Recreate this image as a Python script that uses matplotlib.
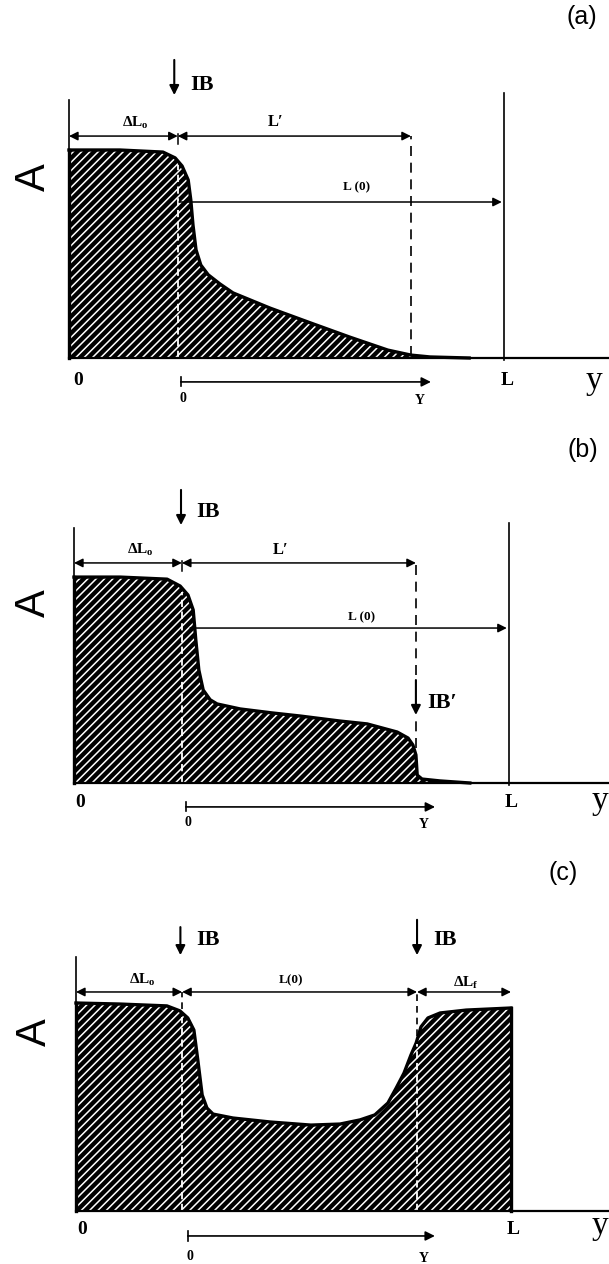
import matplotlib.pyplot as plt
import numpy as np

plt.rcParams['hatch.linewidth'] = 1.1
plt.rcParams['hatch.color'] = 'white'
plt.rcParams['mathtext.fontset'] = 'custom'
plt.rcParams['mathtext.rm'] = 'Liberation Serif:bold'
plt.rcParams['mathtext.it'] = 'Liberation Serif:bold'
plt.rcParams['mathtext.bf'] = 'Liberation Serif:bold'

# profiles A(y): y in units of L, A in units of the plateau height
ya = [0, 0.117, 0.216, 0.244, 0.260, 0.274, 0.280, 0.285, 0.292, 0.303, 0.320,
      0.347, 0.377, 0.462, 0.556, 0.646, 0.733, 0.786, 0.83, 0.92]
Aa = [1.0, 1.0, 0.99, 0.962, 0.923, 0.856, 0.76, 0.64, 0.52, 0.447, 0.40,
      0.356, 0.313, 0.24, 0.168, 0.10, 0.038, 0.014, 0.005, 0.0]

yb = [0, 0.106, 0.214, 0.244, 0.262, 0.274, 0.280, 0.287, 0.297, 0.313, 0.329,
      0.382, 0.455, 0.52, 0.611, 0.674, 0.743, 0.768, 0.779, 0.786, 0.789, 0.80,
      0.841, 0.91]
Ab = [0.99, 0.99, 0.98, 0.947, 0.904, 0.832, 0.688, 0.543, 0.447, 0.40, 0.38,
      0.356, 0.337, 0.322, 0.298, 0.284, 0.245, 0.216, 0.183, 0.135, 0.038, 0.019,
      0.01, 0.0]

yc = [0, 0.101, 0.209, 0.239, 0.257, 0.271, 0.28, 0.29, 0.301, 0.315, 0.361,
      0.446, 0.54, 0.607, 0.653, 0.687, 0.717, 0.736, 0.754, 0.77, 0.782, 0.793,
      0.809, 0.837, 0.897, 1.0]
Ac = [1.0, 0.995, 0.986, 0.962, 0.928, 0.87, 0.726, 0.558, 0.495, 0.466, 0.447,
      0.428, 0.413, 0.418, 0.438, 0.462, 0.519, 0.591, 0.663, 0.75, 0.808, 0.885,
      0.928, 0.952, 0.966, 0.976]

# positions of the IB marks and of the Y end
ib_a, yend_a = 0.25, 0.786
ib_b, yend_b = 0.248, 0.786
ib_c, yend_c = 0.244, 0.784

W, H = 609, 1264
fig = plt.figure(figsize=(W / 100, H / 100), dpi=100)

serif_b = dict(family=['Liberation Serif', 'DejaVu Serif'], weight='bold')


def panel(top, bottom, x0, base, span=435.0, unit=208.0):
    ax = fig.add_axes([0, 1 - bottom / H, 1, (bottom - top) / H])
    ax.set_xlim(-x0 / span, (W - x0) / span)
    ax.set_ylim(-(bottom - base) / unit, (base - top) / unit)
    ax.axis('off')
    return ax


def arrow(ax, x1, y1, x2, y2, style='<|-|>', lw=1.1, ms=13):
    ax.annotate('', xy=(x2, y2), xytext=(x1, y1),
                arrowprops=dict(arrowstyle=style, color='black', lw=lw,
                                shrinkA=0, shrinkB=0, mutation_scale=ms))


def profile(ax, y, A, ibs):
    ax.fill_between(y, A, 0, facecolor='black', edgecolor='white',
                    hatch='////', linewidth=0)
    ax.plot(y, A, color='black', lw=2.4)
    ax.plot([0, 0], [0, A[0]], color='black', lw=2.4)
    for ib in ibs:
        h = np.interp(ib, y, A)
        ax.plot([ib, ib], [0, h - 0.02], color='white', lw=1.3, dashes=(4, 2.5))


def axes_frame(ax, top):
    ax.plot([0, 0], [0, top], color='black', lw=1.2)
    ax.plot([0, ax.get_xlim()[1]], [0, 0], color='black', lw=1.6)


def ib_mark(ax, x, y1, y2, label, tx, ty):
    arrow(ax, x, y1, x, y2, style='-|>', lw=1.5, ms=14)
    ax.text(tx, ty, label, ha='center', va='center', fontsize=16, **serif_b)


def bottom_labels(ax, x0l, xl, xyl, yrow, ysm, xs0, xs1, ys, y_y):
    ax.text(x0l, yrow, '0', ha='center', va='center', fontsize=14, **serif_b)
    ax.text(xl, yrow, 'L', ha='center', va='center', fontsize=14, **serif_b)
    ax.text(xyl, y_y, 'y', ha='center', va='center', fontsize=24,
            family='Liberation Serif')
    arrow(ax, xs0, ys, xs1, ys, style='-|>', lw=1.2, ms=14)
    ax.plot([xs0, xs0], [ys + 0.022, ys - 0.022], color='black', lw=1.2)
    ax.text(xs0 + 0.004, ysm, '0', ha='center', va='center', fontsize=10, **serif_b)
    ax.text(xs1 - 0.026, ysm - 0.006, 'Y', ha='center', va='center',
            fontsize=10, **serif_b)


def side_labels(ax, tag, tx, ty, ax_, ay):
    ax.text(tx, ty, tag, ha='center', va='center', fontsize=18,
            family='Liberation Sans')
    ax.text(ax_, ay, 'A', ha='center', va='center', fontsize=30,
            family='Liberation Sans', rotation=90)


# ---------------- (a)
ax = panel(0, 420, 69, 358)
profile(ax, ya, Aa, [ib_a])
axes_frame(ax, 1.24)
ax.plot([1, 1], [-0.01, 1.274], color='black', lw=1.2)
ax.plot([yend_a, yend_a], [0.01, 1.067], color='black', lw=1.2, dashes=(6, 4))
dh = 1.067
arrow(ax, 0, dh, ib_a, dh)
arrow(ax, ib_a, dh, yend_a, dh)
ax.plot([ib_a, ib_a], [dh - 0.04, dh + 0.01], color='black', lw=1.1)
arrow(ax, 0.253, 0.75, 0.995, 0.75, style='-|>')
ax.text(0.152, 1.13, r'$\Delta L_{o}$', ha='center', va='center', fontsize=11)
ax.text(0.476, 1.135, 'L\u2032', ha='center', va='center', fontsize=12, **serif_b)
ax.text(0.662, 0.822, 'L (0)', ha='center', va='center', fontsize=9.5, **serif_b)
ib_mark(ax, ib_a - 0.008, 1.433, 1.264, 'IB', 0.306, 1.3125)
side_labels(ax, '(a)', 1.18, 1.64, -0.08, 0.87)
bottom_labels(ax, 0.02, 1.007, 1.207, -0.106, -0.197, 0.257, 0.832, -0.115, -0.11)

# ---------------- (b)
ax = panel(420, 845, 74, 783)
profile(ax, yb, Ab, [ib_b])
axes_frame(ax, 1.226)
ax.plot([1, 1], [-0.01, 1.25], color='black', lw=1.2)
dh = 1.058
ax.plot([yend_b, yend_b], [0.52, dh], color='black', lw=1.2, dashes=(6, 4))
ax.plot([yend_b, yend_b], [0.17, 0.30], color='black', lw=1.2, dashes=(6, 4))
arrow(ax, 0, dh, ib_b, dh)
arrow(ax, ib_b, dh, yend_b, dh)
ax.plot([ib_b, ib_b], [dh - 0.04, dh + 0.01], color='black', lw=1.1)
arrow(ax, 0.267, 0.745, 0.995, 0.745, style='-|>')
ax.text(0.152, 1.12, r'$\Delta L_{o}$', ha='center', va='center', fontsize=11)
ax.text(0.474, 1.12, 'L\u2032', ha='center', va='center', fontsize=12, **serif_b)
ax.text(0.66, 0.798, 'L (0)', ha='center', va='center', fontsize=9.5, **serif_b)
ib_mark(ax, ib_b - 0.002, 1.409, 1.24, 'IB', 0.308, 1.303)
ib_mark(ax, yend_b, 0.495, 0.327, "IB\u2032", 0.846, 0.385)
side_labels(ax, '(b)', 1.17, 1.60, -0.092, 0.865)
bottom_labels(ax, 0.014, 1.005, 1.209, -0.096, -0.192, 0.257, 0.83, -0.115, -0.085)

# ---------------- (c)
ax = panel(845, 1264, 76, 1211)
profile(ax, yc, Ac, [ib_c, yend_c])
axes_frame(ax, 1.221)
ax.plot([1, 1], [0, Ac[-1]], color='black', lw=2.4)
dh = 1.053
for xv in (ib_c, yend_c):
    h = np.interp(xv, yc, Ac)
    ax.plot([xv, xv], [h + 0.02, dh], color='black', lw=1.2, dashes=(4, 3))
arrow(ax, 0, dh, ib_c, dh)
arrow(ax, ib_c, dh, yend_c, dh)
arrow(ax, yend_c, dh, 1.0, dh)
ax.text(0.152, 1.11, r'$\Delta L_{o}$', ha='center', va='center', fontsize=11)
ax.text(0.494, 1.11, 'L(0)', ha='center', va='center', fontsize=9.5, **serif_b)
ax.text(0.897, 1.096, r'$\Delta L_{f}$', ha='center', va='center', fontsize=11)
ib_mark(ax, ib_c - 0.004, 1.365, 1.23, 'IB', 0.303, 1.303)
ib_mark(ax, yend_c, 1.40, 1.23, 'IB', 0.848, 1.303)
side_labels(ax, '(c)', 1.12, 1.625, -0.094, 0.86)
bottom_labels(ax, 0.014, 1.005, 1.205, -0.091, -0.221, 0.257, 0.825, -0.12, -0.07)

fig.savefig('out.png', dpi=100)
